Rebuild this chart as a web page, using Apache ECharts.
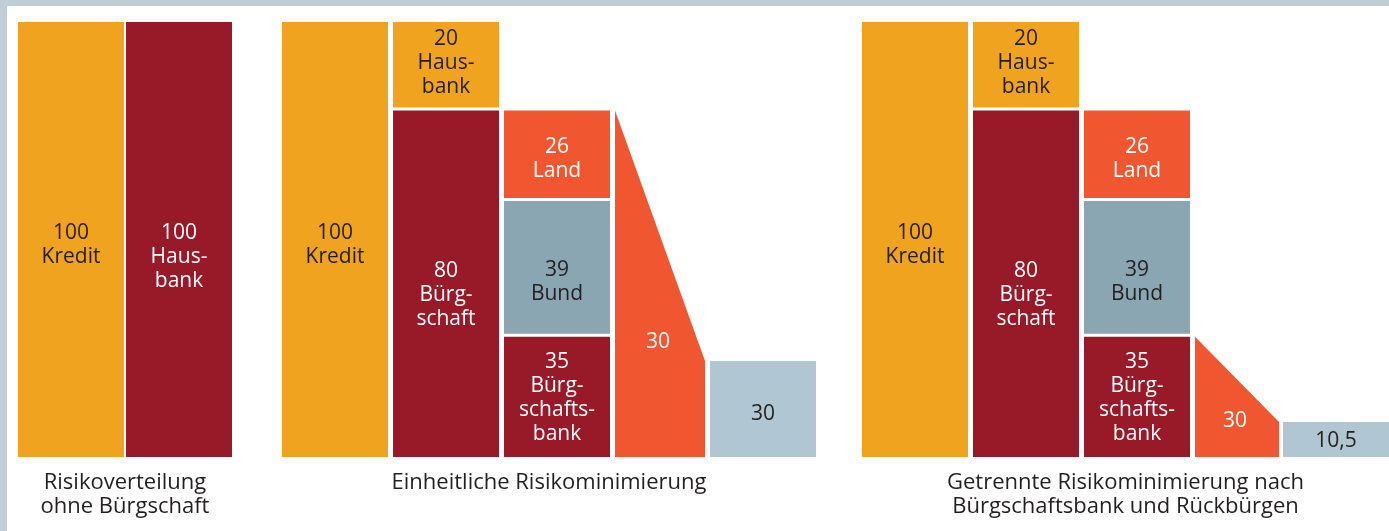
<!DOCTYPE html>
<html>
<head>
<meta charset="utf-8">
<script src="https://cdn.jsdelivr.net/npm/echarts@6/dist/echarts.min.js"></script>
<style>
html, body { margin: 0; padding: 0; background: #c0ced7; }
#chart { position: absolute; left: 7px; top: 6px; width: 1382px; height: 525px; background: #fff; }
</style>
</head>
<body>
<div id="chart"></div>
<script>
// Werte, bezogen auf 100 Kredit
var kreditWert = 100;
var hausbankOhneWert = 100;
var hausbankWert = 20;
var buergschaftWert = 80;
// Aufteilung der Bürgschaft in % (Land / Bund / Bürgschaftsbank)
var teilNamen = ['Land', 'Bund', 'Bürg-\nschafts-\nbank'];
var teilWerte = [26, 39, 35];
// Keil (Restrisiko), in % der Bürgschaft
var keilLabels = ['30', '30'];
var keilStart = [100, 35];
// verbleibender Block, in % der Bürgschaft (gezeichnete Höhe)
var restLabels = ['30', '10,5'];
var restWerte = [28, 10.5];
var titel = [
    'Risikoverteilung\nohne Bürgschaft',
    'Einheitliche Risikominimierung',
    'Getrennte Risikominimierung nach\nBürgschaftsbank und Rückbürgen'
];

var farbe = {
    kredit: '#f0a31e',
    bank: '#981928',
    land: '#f0562f',
    bund: '#8aa6b2',
    rest: '#b0c6d2',
    dunkel: '#231f20',
    hell: '#ffffff'
};

// Aufbau der Spalten (x-Achse in Pixeln des Diagrammbereichs)
var gruppeX = [0, 264, 844];
var spalteB = 106;
var schritt = 111;
var keilB = [90, 84];
var keilAbstand = [5, 4];
var teilVersatz = [5, 15, 1];
var teilFarbe = [farbe.land, farbe.bund, farbe.bank];
var teilText = [farbe.hell, farbe.dunkel, farbe.hell];
var restVersatz = [5, 2];

var segs = [];
function add(x0, w, y0, y1, text, fill, tc, dy) {
    segs.push({x0: x0, x1: x0 + w, y0: y0, y1: y1, text: text, fill: fill, tc: tc, dy: dy});
}

// Gruppe 1
add(gruppeX[0], spalteB, 0, kreditWert, kreditWert + '\nKredit', farbe.kredit, farbe.dunkel, 6);
add(gruppeX[0] + 108, spalteB, 0, hausbankOhneWert, hausbankOhneWert + '\nHaus-\nbank', farbe.bank, farbe.hell, 18);

var keile = [];
var anteil = buergschaftWert / 100;
for (var g = 1; g <= 2; g++) {
    var x0 = gruppeX[g];
    var k = g - 1;
    add(x0, spalteB, 0, kreditWert, kreditWert + '\nKredit', farbe.kredit, farbe.dunkel, 6);
    add(x0 + schritt, spalteB, buergschaftWert, buergschaftWert + hausbankWert, hausbankWert + '\nHaus-\nbank', farbe.kredit, farbe.dunkel, -2);
    add(x0 + schritt, spalteB, 0, buergschaftWert, buergschaftWert + '\nBürg-\nschaft', farbe.bank, farbe.hell, 11);
    var oben = buergschaftWert;
    for (var i = 0; i < teilWerte.length; i++) {
        var h = teilWerte[i] * anteil;
        add(x0 + 2 * schritt, spalteB, oben - h, oben, teilWerte[i] + '\n' + teilNamen[i], teilFarbe[i], teilText[i], teilVersatz[i]);
        oben -= h;
    }
    var kx = x0 + 3 * schritt;
    keile.push({x0: kx, x1: kx + keilB[k], yl: keilStart[k] * anteil, yr: restWerte[k] * anteil, text: keilLabels[k]});
    add(kx + keilB[k] + keilAbstand[k], spalteB, 0, restWerte[k] * anteil, restLabels[k], farbe.rest, farbe.dunkel, restVersatz[k]);
}

var titelMitte = [
    (segs[0].x0 + segs[1].x1) / 2,
    (gruppeX[1] + gruppeX[1] + 3 * schritt + keilB[0] + keilAbstand[0] + spalteB) / 2,
    (gruppeX[2] + gruppeX[2] + 3 * schritt + keilB[1] + keilAbstand[1] + spalteB) / 2
];

var schrift = '"Open Sans", "Noto Sans", sans-serif';
var luecke = 1.5;

var myChart = echarts.init(document.getElementById('chart'));
var option = {
    animation: false,
    grid: {left: 11, right: 0, top: 16, bottom: 74},
    xAxis: {type: 'value', min: 0, max: 1371, show: false},
    yAxis: {type: 'value', min: 0, max: 100, show: false},
    series: [
        {
            type: 'custom',
            silent: true,
            clip: false,
            data: segs.map(function (s) { return [s.x0, s.x1, s.y0, s.y1]; }),
            renderItem: function (params, api) {
                var s = segs[params.dataIndex];
                var p0 = api.coord([api.value(0), api.value(3)]);
                var p1 = api.coord([api.value(1), api.value(2)]);
                var top = p0[1] + (api.value(3) < 100 ? luecke : 0);
                var bot = p1[1] - (api.value(2) > 0 ? luecke : 0);
                return {
                    type: 'group',
                    children: [
                        {type: 'rect', shape: {x: p0[0], y: top, width: p1[0] - p0[0], height: bot - top}, style: {fill: s.fill}},
                        {type: 'text', style: {
                            text: s.text, x: (p0[0] + p1[0]) / 2, y: (top + bot) / 2 + s.dy,
                            align: 'center', verticalAlign: 'middle', fill: s.tc,
                            fontSize: 21, fontFamily: schrift, lineHeight: 24
                        }}
                    ]
                };
            }
        },
        {
            type: 'custom',
            silent: true,
            clip: false,
            data: keile.map(function (k) { return [k.x0, k.x1, k.yl, k.yr]; }),
            renderItem: function (params, api) {
                var k = keile[params.dataIndex];
                var tl = api.coord([api.value(0), api.value(2)]);
                var tr = api.coord([api.value(1), api.value(3)]);
                var b = api.coord([api.value(0), 0]);
                var ytl = tl[1] + luecke, ytr = tr[1] + luecke;
                var h1 = b[1] - ytl, h2 = b[1] - ytr;
                var cy = b[1] - (h1 * h1 + h1 * h2 + h2 * h2) / (3 * (h1 + h2)) + 7;
                return {
                    type: 'group',
                    children: [
                        {type: 'polygon', shape: {points: [[tl[0], ytl], [tr[0], ytr], [tr[0], b[1]], [tl[0], b[1]]]}, style: {fill: farbe.land}},
                        {type: 'text', style: {
                            text: k.text, x: (tl[0] + tr[0]) / 2 - 2, y: cy,
                            align: 'center', verticalAlign: 'middle', fill: farbe.hell,
                            fontSize: 21, fontFamily: schrift
                        }}
                    ]
                };
            }
        },
        {
            type: 'custom',
            silent: true,
            clip: false,
            data: titelMitte.map(function (x) { return [x, 0]; }),
            renderItem: function (params, api) {
                var p = api.coord([api.value(0), api.value(1)]);
                return {
                    type: 'text',
                    style: {
                        text: titel[params.dataIndex], x: p[0], y: p[1] + 14,
                        align: 'center', verticalAlign: 'top', fill: farbe.dunkel,
                        fontSize: 22, fontFamily: schrift, lineHeight: 24
                    }
                };
            }
        }
    ]
};
myChart.setOption(option);
</script>
</body>
</html>
